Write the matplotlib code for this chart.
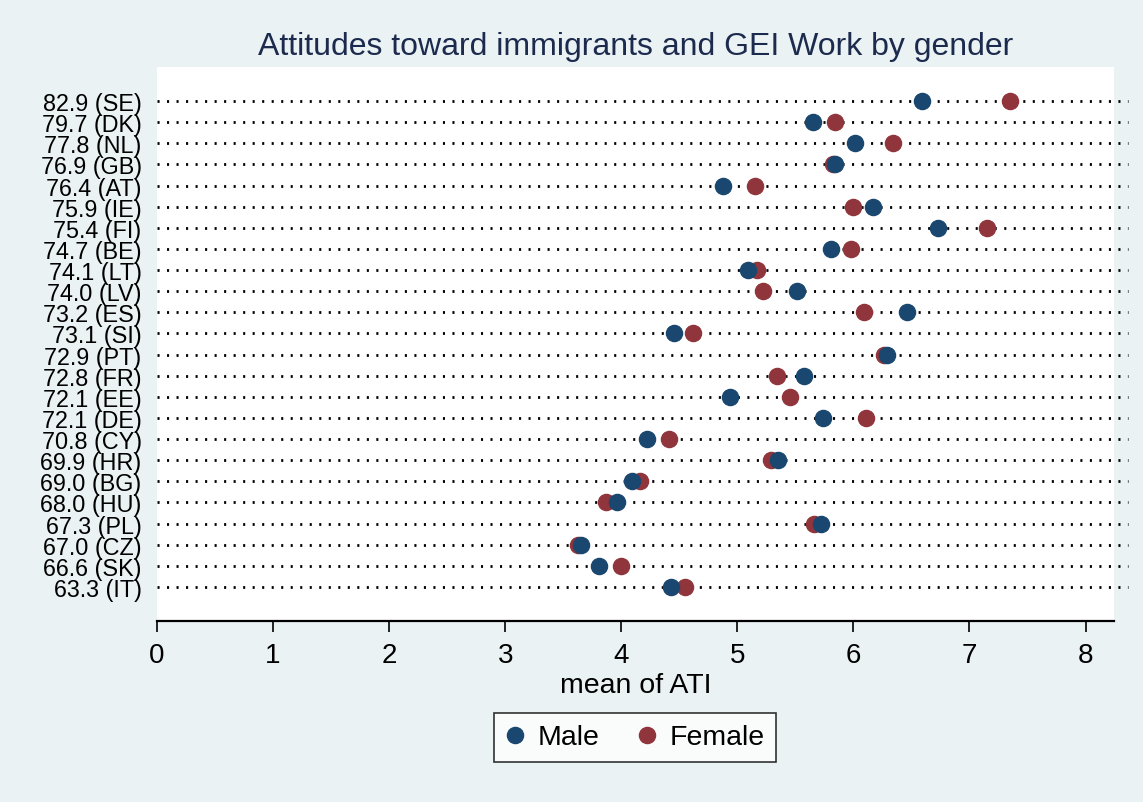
import matplotlib
matplotlib.use("Agg")
import matplotlib.pyplot as plt
import matplotlib.transforms as mtransforms
import numpy as np

plt.rcParams["font.family"] = ["Liberation Sans", "DejaVu Sans"]
plt.rcParams["lines.scale_dashes"] = False

# Countries ordered by GEI Work score
countries = ["SE", "DK", "NL", "GB", "AT", "IE", "FI", "BE", "LT", "LV", "ES", "SI",
             "PT", "FR", "EE", "DE", "CY", "HR", "BG", "HU", "PL", "CZ", "SK", "IT"]
gei_work = [82.9, 79.7, 77.8, 76.9, 76.4, 75.9, 75.4, 74.7, 74.1, 74.0, 73.2, 73.1,
            72.9, 72.8, 72.1, 72.1, 70.8, 69.9, 69.0, 68.0, 67.3, 67.0, 66.6, 63.3]

# Mean ATI by gender
ati_male = [6.59, 5.65, 6.01, 5.84, 4.88, 6.17, 6.73, 5.81, 5.09, 5.51, 6.46, 4.45,
            6.29, 5.57, 4.94, 5.74, 4.22, 5.35, 4.09, 3.96, 5.72, 3.65, 3.81, 4.43]
ati_female = [7.35, 5.84, 6.34, 5.82, 5.15, 6.00, 7.15, 5.98, 5.17, 5.22, 6.09, 4.62,
              6.26, 5.34, 5.45, 6.11, 4.41, 5.29, 4.16, 3.87, 5.66, 3.63, 4.00, 4.55]

x_ticks = [0, 1, 2, 3, 4, 5, 6, 7, 8]

bg = "#EAF2F3"
male_col = "#1A476F"
female_col = "#90353B"

W, H = 1143, 803
fig = plt.figure(figsize=(W / 100, H / 100), dpi=100, facecolor=bg)
ax = fig.add_axes([157 / W, 1 - 622 / H, (1114 - 157) / W, (622 - 68) / H])
ax.set_facecolor("white")

n = len(countries)
ypos = np.arange(n)
labels = [f"{g:.1f} ({c})" for g, c in zip(gei_work, countries)]

# dotted guide lines across each row
trans = mtransforms.blended_transform_factory(ax.transAxes, ax.transData)
for y in ypos:
    ax.plot([0, 1.015], [y, y], transform=trans, color="black", lw=2.0,
            linestyle=(0, (1.5, 5.35)), clip_on=False, zorder=1)

ax.plot(ati_female, ypos, "o", ms=11.6, color=female_col, mec=female_col,
        lw=0, zorder=2, label="Female")
ax.plot(ati_male, ypos, "o", ms=11.6, color=male_col, mec=male_col,
        lw=0, zorder=3, label="Male")

ax.set_xlim(0, 8.245)
ax.set_ylim(n - 1 + 1.61, -1.61)
ax.set_xticks(x_ticks)
ax.set_xticklabels([str(t) for t in x_ticks], fontsize=20)
ax.set_yticks(ypos)
ax.set_yticklabels(labels, fontsize=16.8)
ax.tick_params(axis="y", length=0, pad=11)
ax.tick_params(axis="x", length=8, width=1.2, pad=7, direction="out")

for s in ["top", "right", "left"]:
    ax.spines[s].set_visible(False)
ax.spines["bottom"].set_linewidth(1.6)

ax.set_xlabel("mean of ATI", fontsize=20.5, labelpad=3)

fig.text((157 + 1114) / 2 / W, 1 - 47 / H,
         "Attitudes toward immigrants and GEI Work by gender",
         ha="center", va="center", fontsize=23, color="#1C2A4E")

handles, lbls = ax.get_legend_handles_labels()
order = [1, 0]
leg = fig.legend([handles[i] for i in order], [lbls[i] for i in order],
                 loc="center", bbox_to_anchor=(635 / W, 1 - 738.5 / H),
                 ncol=2, fontsize=20.5, frameon=True, fancybox=False,
                 edgecolor="black", handlelength=0.7, handletextpad=0.45,
                 columnspacing=1.3, borderpad=0.4, markerscale=1.0)
leg.get_frame().set_linewidth(1.2)

fig.savefig("out.png", dpi=100, facecolor=bg)
